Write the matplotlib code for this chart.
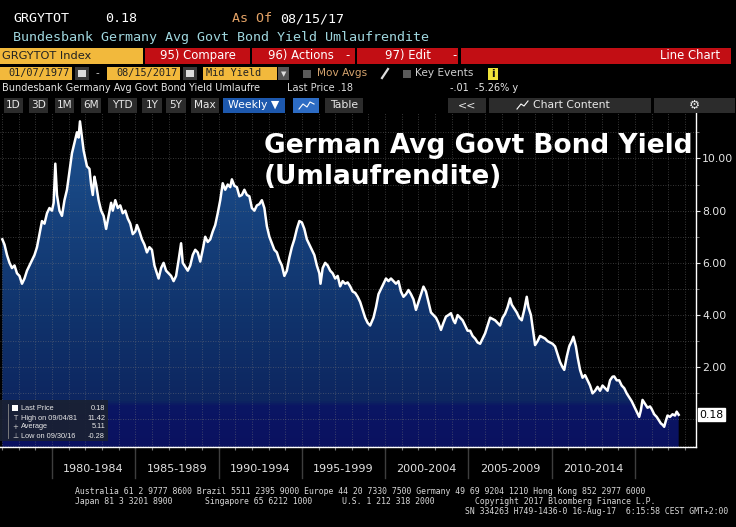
import numpy as np
import matplotlib
matplotlib.use("Agg")
import matplotlib.pyplot as plt
from matplotlib.patches import Rectangle
from matplotlib.colors import LinearSegmentedColormap

# weekly series (year fraction, yield in %)
years = [1977.02, 1977.15, 1977.3, 1977.45, 1977.6, 1977.75, 1977.9, 1978.05, 1978.2, 1978.35,
         1978.5, 1978.65, 1978.8, 1978.95, 1979.1, 1979.25, 1979.4, 1979.55, 1979.7, 1979.85,
         1980.0, 1980.1, 1980.2, 1980.3, 1980.45, 1980.6, 1980.75, 1980.9, 1981.05, 1981.2,
         1981.35, 1981.5, 1981.6, 1981.68, 1981.78, 1981.9, 1982.0, 1982.1, 1982.25, 1982.35,
         1982.45, 1982.55, 1982.65, 1982.8, 1982.95, 1983.1, 1983.25, 1983.4, 1983.55, 1983.65,
         1983.8, 1983.95, 1984.1, 1984.25, 1984.4, 1984.55, 1984.7, 1984.85, 1985.0, 1985.1,
         1985.25, 1985.4, 1985.55, 1985.7, 1985.85, 1986.0, 1986.15, 1986.3, 1986.4, 1986.55,
         1986.7, 1986.85, 1987.0, 1987.15, 1987.3, 1987.45, 1987.6, 1987.75, 1987.85, 1988.0,
         1988.15, 1988.3, 1988.45, 1988.6, 1988.75, 1988.9, 1989.05, 1989.2, 1989.35, 1989.5,
         1989.65, 1989.8, 1989.95, 1990.1, 1990.25, 1990.4, 1990.55, 1990.7, 1990.8, 1990.95,
         1991.1, 1991.25, 1991.4, 1991.55, 1991.7, 1991.85, 1992.0, 1992.15, 1992.3, 1992.45,
         1992.6, 1992.75, 1992.9, 1993.05, 1993.2, 1993.35, 1993.5, 1993.65, 1993.8, 1993.95,
         1994.1, 1994.25, 1994.4, 1994.55, 1994.7, 1994.85, 1995.0, 1995.15, 1995.3, 1995.45,
         1995.6, 1995.75, 1995.9, 1996.05, 1996.12, 1996.25, 1996.4, 1996.55, 1996.7, 1996.85,
         1997.0, 1997.15, 1997.3, 1997.45, 1997.6, 1997.75, 1997.9, 1998.05, 1998.2, 1998.35,
         1998.5, 1998.65, 1998.8, 1998.95, 1999.1, 1999.3, 1999.45, 1999.6, 1999.75, 1999.9,
         2000.05, 2000.2, 2000.35, 2000.5, 2000.65, 2000.8, 2000.95, 2001.1, 2001.25, 2001.4,
         2001.55, 2001.7, 2001.85, 2002.0, 2002.15, 2002.3, 2002.45, 2002.6, 2002.75, 2002.9,
         2003.05, 2003.2, 2003.35, 2003.5, 2003.65, 2003.8, 2003.95, 2004.1, 2004.2, 2004.35,
         2004.5, 2004.65, 2004.8, 2004.95, 2005.1, 2005.25, 2005.4, 2005.55, 2005.7, 2005.85,
         2006.0, 2006.15, 2006.3, 2006.45, 2006.6, 2006.75, 2006.9, 2007.05, 2007.2, 2007.35,
         2007.5, 2007.6, 2007.75, 2007.9, 2008.05, 2008.2, 2008.35, 2008.5, 2008.6, 2008.75,
         2008.9, 2009.0, 2009.15, 2009.3, 2009.45, 2009.6, 2009.75, 2009.9, 2010.05, 2010.2,
         2010.35, 2010.5, 2010.65, 2010.75, 2010.9, 2011.05, 2011.2, 2011.3, 2011.45, 2011.55,
         2011.7, 2011.85, 2012.0, 2012.15, 2012.3, 2012.45, 2012.6, 2012.75, 2012.9, 2013.05,
         2013.2, 2013.35, 2013.5, 2013.65, 2013.75, 2013.9, 2014.05, 2014.2, 2014.35, 2014.5,
         2014.65, 2014.8, 2014.95, 2015.1, 2015.25, 2015.35, 2015.45, 2015.6, 2015.75, 2015.9,
         2016.0, 2016.15, 2016.3, 2016.45, 2016.55, 2016.65, 2016.75, 2016.85, 2016.95, 2017.1,
         2017.25, 2017.4, 2017.5, 2017.55, 2017.62]
yields = [6.9, 6.7, 6.3, 6.0, 5.8, 5.9, 5.6, 5.5, 5.2, 5.4,
          5.7, 5.9, 6.1, 6.3, 6.6, 7.1, 7.6, 7.5, 7.9, 8.1,
          8.0, 8.3, 9.8, 8.6, 8.0, 7.8, 8.4, 8.8, 9.5, 10.2,
          10.6, 11.0, 10.8, 11.42, 10.9, 10.3, 10.0, 9.7, 9.6, 9.0,
          8.6, 9.3, 9.0, 8.4, 8.0, 7.8, 7.3, 7.8, 8.3, 8.0,
          8.4, 8.1, 8.2, 7.9, 8.0, 7.7, 7.5, 7.1, 7.2, 7.45,
          7.2, 6.9, 6.7, 6.4, 6.6, 6.5, 5.9, 5.6, 5.4, 5.8,
          6.0, 5.7, 5.6, 5.5, 5.3, 5.5, 6.1, 6.75, 6.0, 5.85,
          5.7, 5.9, 6.3, 6.5, 6.4, 6.05, 6.5, 7.0, 6.8, 6.9,
          7.2, 7.45, 7.9, 8.4, 9.05, 8.8, 9.0, 8.9, 9.2, 8.95,
          8.9, 8.55, 8.6, 8.8, 8.6, 8.55, 8.1, 8.0, 8.2, 8.25,
          8.4, 8.1, 7.4, 7.0, 6.75, 6.5, 6.4, 6.1, 5.9, 5.5,
          5.7, 6.2, 6.6, 6.9, 7.3, 7.6, 7.55, 7.3, 6.9, 6.7,
          6.5, 6.3, 5.9, 5.6, 5.2, 5.8, 6.0, 5.9, 5.7, 5.6,
          5.4, 5.5, 5.1, 5.3, 5.2, 5.25, 5.1, 4.9, 4.85, 4.7,
          4.5, 4.2, 3.9, 3.7, 3.6, 3.9, 4.3, 4.8, 5.0, 5.2,
          5.4, 5.3, 5.4, 5.3, 5.2, 5.3, 4.9, 4.7, 4.8, 4.96,
          4.8, 4.6, 4.2, 4.5, 4.8, 5.09, 4.9, 4.5, 4.1, 4.0,
          3.9, 3.7, 3.43, 3.7, 3.94, 4.0, 4.07, 3.8, 3.69, 4.0,
          3.9, 3.8, 3.6, 3.4, 3.4, 3.2, 3.1, 2.95, 2.9, 3.1,
          3.3, 3.6, 3.9, 3.85, 3.8, 3.7, 3.6, 3.9, 4.05, 4.3,
          4.64, 4.4, 4.25, 4.1, 3.9, 3.8, 4.2, 4.7, 4.3, 4.0,
          3.3, 2.85, 3.0, 3.2, 3.15, 3.1, 3.0, 2.95, 2.9, 2.8,
          2.5, 2.2, 2.0, 1.9, 2.4, 2.8, 3.0, 3.17, 2.8, 2.4,
          1.9, 1.6, 1.7, 1.5, 1.3, 1.0, 1.1, 1.25, 1.1, 1.3,
          1.2, 1.1, 1.5, 1.64, 1.65, 1.5, 1.5, 1.3, 1.2, 1.0,
          0.85, 0.7, 0.5, 0.3, 0.1, 0.35, 0.75, 0.6, 0.45, 0.5,
          0.4, 0.2, 0.1, -0.05, -0.15, -0.2, -0.28, -0.05, 0.15, 0.1,
          0.2, 0.15, 0.3, 0.25, 0.18]

period_starts = [1980, 1985, 1990, 1995, 2000, 2005, 2010]
period_labels = ['1980-1984', '1985-1989', '1990-1994', '1995-1999',
                 '2000-2004', '2005-2009', '2010-2014']
ytick_vals = [2, 4, 6, 8, 10]
last_price = 0.18
legend_names = ['Last Price', 'High on 09/04/81', 'Average', 'Low on 09/30/16']
legend_values = ['0.18', '11.42', '5.11', '-0.28']

W, H = 736, 527
fig = plt.figure(figsize=(W / 100, H / 100), dpi=100, facecolor='black')


def fx(x):
    return x / W


def fy(y):
    return 1 - y / H


def box(x0, y0, x1, y1, color, ec='none', lw=0, alpha=1):
    fig.add_artist(Rectangle((fx(x0), fy(y1)), (x1 - x0) / W, (y1 - y0) / H,
                             transform=fig.transFigure, facecolor=color,
                             edgecolor=ec, lw=lw, alpha=alpha))


def txt(x, y, s, size=8, color='white', ha='left', family='DejaVu Sans', weight='normal'):
    fig.text(fx(x), fy(y), s, fontsize=size, color=color, ha=ha, va='center',
             family=family, weight=weight)


MONO = 'DejaVu Sans Mono'
YEL = '#f2b93c'
RED = '#c20e14'
BTN = '#2c2c2c'

# ---- header rows ----
txt(13, 19, 'GRGYTOT', 9.6, 'white', family=MONO)
txt(105, 19, '0.18', 9.6, 'white', family=MONO)
txt(232, 19, 'As Of', 9.6, '#e3a266', family=MONO)
txt(280, 19, '08/15/17', 9.6, 'white', family=MONO)
txt(13, 38, 'Bundesbank Germany Avg Govt Bond Yield Umlaufrendite', 9.6, '#9fd6de', family=MONO)

box(0, 48, 143, 64, YEL)
txt(2, 56, 'GRGYTOT Index', 8.2, '#222222')
box(145, 48, 250, 64, RED)
box(252, 48, 355, 64, RED)
box(357, 48, 458, 64, RED)
box(461, 48, 731, 64, RED)
txt(160, 56, '95) Compare', 8.4)
txt(268, 56, '96) Actions', 8.4)
txt(345, 56, '-', 8.4)
txt(385, 56, '97) Edit', 8.4)
txt(452, 56, '-', 8.4)
txt(720, 56, 'Line Chart', 8.4, ha='right')

box(0, 67, 72, 80, YEL)
txt(70, 73.5, '01/07/1977', 7.4, '#222222', ha='right', family=MONO)
box(75, 67, 89, 80, '#3a3a3a')
box(78, 70, 86, 77, '#dddddd')
txt(96, 73.5, '-', 7.5, '#cccccc')
box(107, 67, 180, 80, YEL)
txt(178, 73.5, '08/15/2017', 7.4, '#222222', ha='right', family=MONO)
box(183, 67, 197, 80, '#3a3a3a')
box(186, 70, 194, 77, '#dddddd')
box(203, 67, 277, 80, YEL)
txt(206, 73.5, 'Mid Yield', 7.4, '#222222', family=MONO)
box(278, 67, 289, 80, '#555555')
txt(283.5, 74, '\u25bc', 5, '#dddddd', ha='center')
box(303, 70, 311, 78, '#5a5a5a')
txt(317, 73.5, 'Mov Avgs', 7.6, '#d6a46e')
fig.add_artist(plt.Line2D([fx(382), fx(388)], [fy(78), fy(69)], transform=fig.transFigure,
                          color='#dddddd', lw=1.6))
box(403, 70, 411, 78, '#5a5a5a')
txt(415, 73.5, 'Key Events', 7.6, '#cfcfcf')
box(488, 68, 498, 80, '#efe33a')
txt(493, 74, 'i', 7.5, '#111111', ha='center', weight='bold')

txt(2, 88, 'Bundesbank Germany Avg Govt Bond Yield Umlaufre', 7.0, '#e6e6e6')
txt(287, 88, 'Last Price .18', 7.0, '#dcdcdc')
txt(450, 88, '-.01  -5.26% y', 7.0, '#e6e6e6')

buttons = [('1D', 4, 23), ('3D', 29, 48), ('1M', 55, 74), ('6M', 81, 101),
           ('YTD', 108, 137), ('1Y', 142, 162), ('5Y', 166, 186), ('Max', 191, 219)]
for label, b0, b1 in buttons:
    box(b0, 98, b1, 113, BTN)
    txt((b0 + b1) / 2, 105.5, label, 7.6, '#e8e8e8', ha='center')
box(223, 98, 285, 113, '#1d58ad')
txt(254, 105.5, 'Weekly \u25bc', 7.8, 'white', ha='center')
box(293, 98, 319, 113, '#2d6cc4')
fig.add_artist(plt.Line2D([fx(299), fx(303), fx(307), fx(310), fx(314)],
                          [fy(109), fy(104), fy(107), fy(102), fy(104)],
                          transform=fig.transFigure, color='white', lw=0.8))
box(325, 98, 363, 113, BTN)
txt(344, 105.5, 'Table', 7.8, '#e8e8e8', ha='center')
box(448, 98, 486, 113, BTN)
txt(467, 105.5, '<<', 8, '#e8e8e8', ha='center')
box(489, 98, 651, 113, BTN)
txt(533, 105.5, 'Chart Content', 7.8, '#e8e8e8')
fig.add_artist(plt.Line2D([fx(517), fx(521), fx(524), fx(528)],
                          [fy(109), fy(104), fy(106), fy(101)],
                          transform=fig.transFigure, color='white', lw=0.8))
box(654, 98, 735, 113, BTN)
txt(694, 105.5, '\u2699', 9, '#e8e8e8', ha='center')

# ---- main chart ----
x_left, x_right = 1976.88, 2018.66
y_bot, y_top = -1.054, 11.74
ax = fig.add_axes([0, fy(447), fx(696), (447 - 113) / H])
ax.set_facecolor('black')
ax.set_xlim(x_left, x_right)
ax.set_ylim(y_bot, y_top)

# gradient area fill clipped to the series polygon
stops = [(-1.054, '#0a1160'), (0.5, '#0b1664'), (0.7, '#0d2660'),
         (4.0, '#10336c'), (11.74, '#1d5290')]
cmap = LinearSegmentedColormap.from_list(
    'bbg', [((v - y_bot) / (y_top - y_bot), c) for v, c in stops])
grad = np.linspace(0, 1, 400).reshape(-1, 1)
im = ax.imshow(grad, extent=[x_left, x_right, y_bot, y_top], origin='lower',
               aspect='auto', cmap=cmap, zorder=1)
poly = ax.fill_between(years, yields, y_bot, facecolor='none', edgecolor='none')
im.set_clip_path(poly.get_paths()[0], transform=ax.transData)

# dotted grid on top of the fill
for v in range(-1, 12):
    ax.axhline(v, color='#7a7a7a', lw=0.6, ls=(0, (1, 2)), alpha=0.6, zorder=2)
for yr in range(1977, 2019):
    ax.axvline(yr, color='#7a7a7a', lw=0.6, ls=(0, (1, 2)), alpha=0.6, zorder=2)

ax.plot(years, yields, color='white', lw=1.8, zorder=4)

# axes frame
for side in ['top', 'left']:
    ax.spines[side].set_visible(False)
ax.spines['right'].set_color('white')
ax.spines['bottom'].set_color('white')
ax.spines['right'].set_linewidth(1.0)
ax.spines['bottom'].set_linewidth(1.0)
ax.yaxis.tick_right()
ax.set_yticks(ytick_vals)
ax.set_yticklabels(['%.2f' % v for v in ytick_vals])
ax.set_yticks([1, 3, 5, 7, 9, 11], minor=True)
ax.tick_params(axis='y', which='major', colors='#e6e6e6', labelsize=7.8, length=3, pad=1.5)
ax.tick_params(axis='y', which='minor', colors='#888888', length=2)
ax.set_xticks(range(1977, 2019))
ax.tick_params(axis='x', colors='#777777', length=2, labelbottom=False)

# last price tag
ax.text(1.005, (last_price - y_bot) / (y_top - y_bot), '%.2f' % last_price,
        transform=ax.transAxes, fontsize=7.8, color='black', va='center', ha='left',
        bbox=dict(boxstyle='square,pad=0.15', facecolor='white', edgecolor='white'))

# period labels under the axis
sep_years = period_starts + [2015]
for yr in sep_years:
    ax.plot([yr, yr], [0, -0.092], transform=ax.get_xaxis_transform(), clip_on=False,
            color='#3e3e3e', lw=1.0)
for yr, lab in zip(period_starts, period_labels):
    ax.text(yr + 2.5, -0.066, lab, transform=ax.get_xaxis_transform(), fontsize=8,
            color='#e2e2e2', ha='center', va='center')

# title
fig.text(fx(264), fy(153), 'German Avg Govt Bond Yield', fontsize=19, color='white',
         weight='bold', va='baseline', zorder=10)
fig.text(fx(264), fy(184), '(Umlaufrendite)', fontsize=19, color='white',
         weight='bold', va='baseline', zorder=10)

# legend box
box(0, 400, 108, 441, '#1a2133', alpha=0.92)
rows_y = [408, 418, 427, 436]
box(12, 405, 18, 411, 'white')
marks = ['', 'T', '+', '\u22a5']
for ry, name, val, mk in zip(rows_y, legend_names, legend_values, marks):
    if mk:
        txt(15, ry, mk, 5, '#cccccc', ha='center')
    txt(21, ry, name, 5.3, '#e8e8e8', family='Liberation Sans')
    txt(105, ry, val, 5.3, '#e8e8e8', ha='right', family='Liberation Sans')
fig.add_artist(plt.Line2D([fx(8), fx(8)], [fy(404), fy(438)], transform=fig.transFigure,
                          color='#888888', lw=0.6))

# footer
FOOT = 5.9
txt(75, 491, 'Australia 61 2 9777 8600 Brazil 5511 2395 9000 Europe 44 20 7330 7500 '
    'Germany 49 69 9204 1210 Hong Kong 852 2977 6000', FOOT, '#d8d8d8', family=MONO)
txt(75, 501, 'Japan 81 3 3201 8900', FOOT, '#d8d8d8', family=MONO)
txt(205, 501, 'Singapore 65 6212 1000', FOOT, '#d8d8d8', family=MONO)
txt(342, 501, 'U.S. 1 212 318 2000', FOOT, '#d8d8d8', family=MONO)
txt(475, 501, 'Copyright 2017 Bloomberg Finance L.P.', FOOT, '#d8d8d8', family=MONO)
txt(728, 512, 'SN 334263 H749-1436-0 16-Aug-17  6:15:58 CEST GMT+2:00', FOOT, '#d8d8d8',
    ha='right', family=MONO)

fig.savefig('out.png', dpi=100, facecolor='black')
